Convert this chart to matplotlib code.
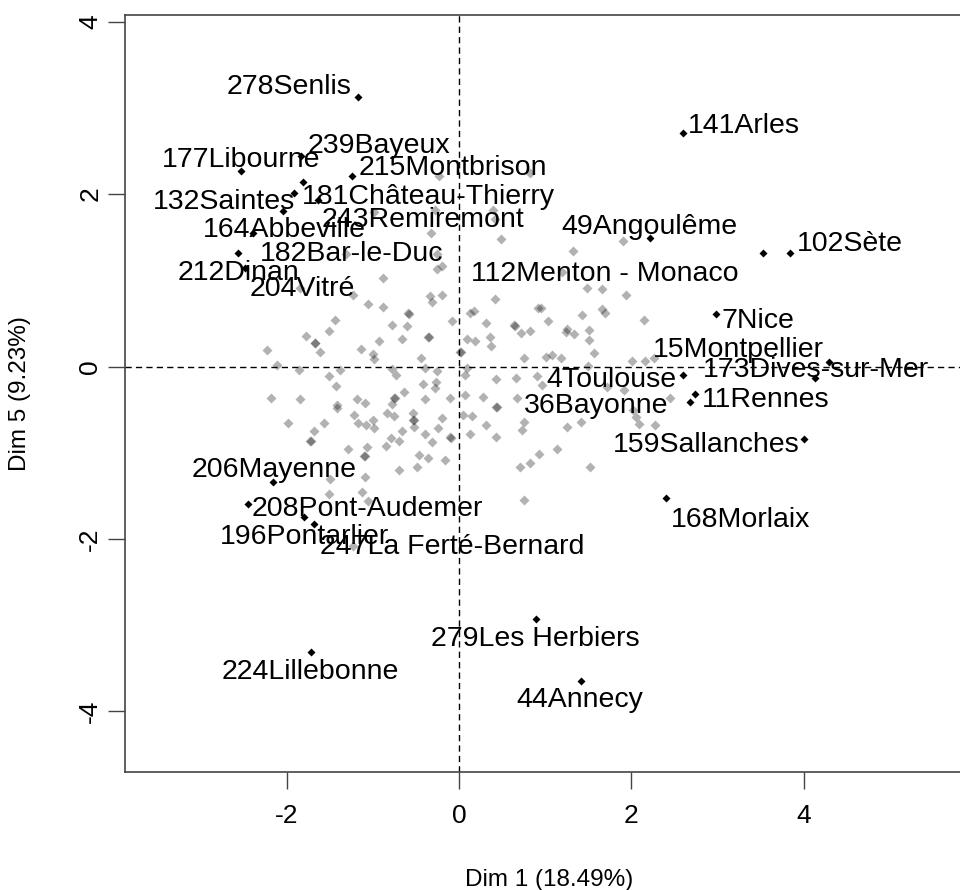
import matplotlib
matplotlib.use("Agg")
import matplotlib.pyplot as plt

# ---------------- data ----------------
# unlabeled individuals (Dim 1, Dim 5)
gray_x = [-0.232, 0.824, -0.986, -0.278, 0.398, 0.418, -0.319, 0.493, 1.319, 1.906,
          -1.311, -0.255, -0.201, -0.259, -0.885, 1.191, -1.845, -1.224, -0.336, -0.307,
          -0.201, 0.423, 1.491, 1.655, 1.937, -1.061, -0.885, -0.592, -0.585, 0.128,
          0.171, -1.442, -1.508, -1.778, -1.674, -1.668, -1.609, -0.774, -0.600, -0.665,
          -0.932, -0.356, -0.350, -0.075, -2.231, -2.115, -1.856, -1.140, -0.994, -0.986,
          -0.441, 0.012, 0.018, 0.089, 0.186, 0.313, 0.360, 0.371, 0.640, 0.646,
          0.725, 0.824, 0.760, 0.920, 0.951, 1.036, 1.427, 1.655, 1.694, 2.146,
          1.249, 1.236, 1.331, 1.510, 1.510, 1.007, 1.075, 1.187, 1.563, 2.003,
          2.161, 2.259, 1.497, 0.429, 0.665, 0.905, 0.965, 1.713, 1.911, 0.432,
          0.438, 0.679, 2.448, 2.019, 2.059, 2.085, 2.274, 0.758, 0.727, 0.429,
          1.253, 1.412, 1.140, 0.932, 0.824, 0.708, 1.523, 0.756, -2.178, -1.845,
          -1.508, -1.384, -1.427, -1.413, -1.415, -1.178, -1.090, -0.774, -0.727, -0.398,
          -0.252, -0.414, -0.265, -0.282, -0.635, -0.752, -0.746, -0.775, -0.394, -0.104,
          0.075, 0.089, 0.070, 0.282, -1.987, -1.686, -1.723, -1.717, -1.570, -1.218,
          -1.175, -1.081, -0.994, -0.983, -0.839, -0.752, -0.536, -0.530, -0.524, -0.522,
          -0.201, -0.247, -0.665, -0.791, -0.694, -0.850, -0.394, -0.307, -0.101, -0.095,
          0.050, 0.147, 0.124, 0.311, -1.284, -1.071, -1.099, -1.093, -0.468, -0.360,
          -0.162, -0.694, -0.487, -1.090, -1.497, -1.508, -1.122, -1.058, -1.232]
gray_y = [2.213, 2.245, 1.796, 1.816, 1.816, 1.708, 1.552, 1.476, 1.343, 1.458,
          1.305, 1.305, 1.166, 1.131, 1.027, 1.100, 0.907, 0.829, 0.820, 0.752,
          0.829, 0.783, 0.916, 0.896, 0.829, 0.722, 0.687, 0.621, 0.615, 0.626,
          0.640, 0.543, 0.415, 0.354, 0.276, 0.270, 0.165, 0.481, 0.466, 0.319,
          0.292, 0.346, 0.340, 0.530, 0.195, 0.017, -0.044, 0.206, 0.143, 0.084,
          0.099, 0.172, 0.166, 0.319, 0.292, 0.501, 0.346, 0.238, 0.476, 0.470,
          0.389, 0.415, 0.099, 0.675, 0.675, 0.528, 0.597, 0.664, 0.624, 0.543,
          0.432, 0.406, 0.375, 0.419, 0.303, 0.107, 0.133, 0.099, 0.153, 0.067,
          0.061, 0.101, 0.006, -0.145, -0.128, -0.110, -0.220, -0.238, -0.276, -0.466,
          -0.472, -0.363, -0.369, -0.505, -0.582, -0.667, -0.679, -0.638, -0.731, -0.821,
          -0.698, -0.640, -0.959, -1.019, -1.114, -1.162, -1.162, -1.543, -0.362, -0.379,
          -0.110, -0.041, -0.224, -0.447, -0.485, -0.377, -0.427, -0.027, -0.099, -0.015,
          -0.049, -0.203, -0.182, -0.253, -0.296, -0.360, -0.366, -0.432, -0.379, -0.362,
          -0.099, -0.015, -0.331, -0.350, -0.655, -0.748, -0.862, -0.868, -0.652, -0.568,
          -0.650, -0.682, -0.621, -0.717, -0.539, -0.572, -0.534, -0.621, -0.615, -0.696,
          -0.595, -0.713, -0.746, -0.824, -0.861, -0.920, -0.787, -0.879, -0.818, -0.824,
          -0.563, -0.574, -0.785, -0.682, -0.954, -0.934, -1.036, -1.042, -1.027, -1.056,
          -1.085, -1.197, -1.166, -1.278, -1.309, -1.479, -1.459, -1.563, -2.077]

# labeled individuals
lab_names = ["278Senlis", "239Bayeux", "177Libourne", "215Montbrison", "132Saintes",
             "181Château-Thierry", "243Remiremont", "164Abbeville", "182Bar-le-Duc",
             "212Dinan", "204Vitré", "141Arles", "49Angoulême", "102Sète",
             "112Menton - Monaco", "7Nice", "15Montpellier", "173Dives-sur-Mer",
             "4Toulouse", "11Rennes", "36Bayonne", "159Sallanches", "168Morlaix",
             "206Mayenne", "208Pont-Audemer", "196Pontarlier", "247La Ferté-Bernard",
             "279Les Herbiers", "224Lillebonne", "44Annecy"]
lab_x = [-1.175, -1.833, -2.530, -1.238, -1.910, -1.632, -1.813, -2.038, -2.386,
         -2.567, -2.483, 2.595, 2.216, 3.840, 3.523, 2.980, 4.290, 4.130,
         2.595, 2.738, 2.680, 4.000, 2.400, -2.154, -2.450, -1.798, -1.686,
         0.890, -1.717, 1.415]
lab_y = [3.130, 2.440, 2.270, 2.210, 2.015, 1.932, 2.144, 1.807, 1.545,
         1.313, 1.146, 2.705, 1.487, 1.313, 1.313, 0.609, 0.056, -0.137,
         -0.099, -0.319, -0.416, -0.845, -1.529, -1.336, -1.595, -1.742, -1.830,
         -2.930, -3.316, -3.650]

# label anchor positions (text centre x, baseline y), as placed in the original
label_tx = [-1.966, -0.928, -2.529, -0.075, -2.720, -0.354, -0.412, -2.030, -1.247,
            -2.558, -1.816, 3.306, 2.204, 4.536, 1.688, 3.463, 3.240, 4.139,
            1.771, 3.559, 1.587, 2.868, 3.270, -2.150, -1.061, -1.787, -0.075,
            0.882, -1.719, 1.404]
label_ty = [3.159, 2.477, 2.309, 2.222, 1.827, 1.885, 1.613, 1.502, 1.227,
            1.003, 0.818, 2.709, 1.537, 1.340, 0.992, 0.447, 0.110, -0.122,
            -0.238, -0.470, -0.539, -0.992, -1.862, -1.282, -1.734, -2.059, -2.175,
            -3.242, -3.625, -3.950]

xlabel = "Dim 1 (18.49%)"
ylabel = "Dim 5 (9.23%)"
xticks = [-2, 0, 2, 4]
yticks = [-4, -2, 0, 2, 4]

# ---------------- plot ----------------
plt.rcParams['font.family'] = ['Liberation Sans', 'DejaVu Sans']
W, H = 960, 890
fig = plt.figure(figsize=(W / 100, H / 100), dpi=100)
ax = fig.add_axes([124.5 / W, (H - 772) / H, 849 / W, 757 / H])
ax.set_xlim(-3.880, 5.969)
ax.set_ylim(-4.704, 4.078)

ax.axhline(0, color='black', lw=1.0, ls=(0, (4.5, 3)), zorder=1)
ax.axvline(0, color='black', lw=1.0, ls=(0, (4.5, 3)), zorder=1)

ax.plot(gray_x, gray_y, ls='none', marker='D', ms=5.4, mfc=(0, 0, 0, 0.30),
        mec='none', zorder=2)
ax.plot(lab_x, lab_y, ls='none', marker='D', ms=4.2, mfc='black', mec='none', zorder=3)

for name, tx, ty in zip(lab_names, label_tx, label_ty):
    ax.text(tx, ty, name, ha='center', va='baseline', fontsize=20.5, color='black',
            zorder=4)

ax.set_xticks(xticks)
ax.set_yticks(yticks)
ax.set_xticklabels([str(v) for v in xticks])
ax.set_yticklabels([str(v) for v in yticks])
ax.tick_params(axis='both', direction='out', length=12, width=1.0, color='#444444',
               labelsize=19, labelcolor='black')
ax.tick_params(axis='x', pad=11)
ax.tick_params(axis='y', pad=4, labelrotation=90)
for lbl in ax.get_yticklabels():
    lbl.set_va('center')

for s in ax.spines.values():
    s.set_color('#444444')
    s.set_linewidth(1.2)

fig.text((124.5 + 973.5) / 2 / W, 1 - 880 / H, xlabel, ha='center', va='center',
         fontsize=17.5)
fig.text(20 / W, 1 - 393.5 / H, ylabel, ha='center', va='center', rotation=90,
         fontsize=17.5)

fig.savefig("out.png", dpi=100)
